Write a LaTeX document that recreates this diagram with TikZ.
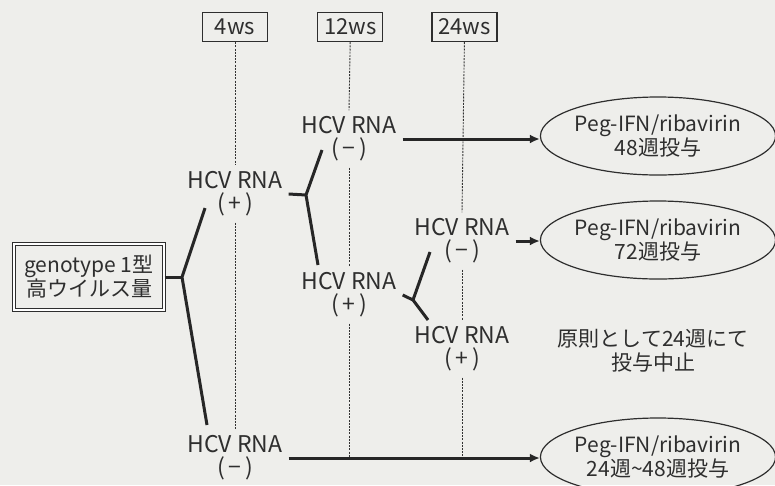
\documentclass[tikz,border=0pt]{standalone}
\usepackage{fontspec}
\setmainfont{Noto Sans CJK JP}
\usepackage{xcolor}
\usepackage{tikz}
\usetikzlibrary{positioning,arrows.meta,shapes.geometric}
\definecolor{bgpaper}{HTML}{EEEEEB}
\definecolor{inkgray}{HTML}{2E2E2E}

\begin{document}
\begin{tikzpicture}[x=1pt,y=-1pt,font=\fontsize{21}{24}\selectfont,>={Latex[length=10pt,width=9pt]},text=inkgray]
  \tikzstyle{week}=[draw=inkgray,line width=1.2pt,minimum width=65pt,minimum height=29pt,inner sep=0pt,font=\fontsize{22}{24}\selectfont]
  \tikzstyle{rna}=[align=center,inner xsep=6pt,inner ysep=6pt,font=\fontsize{23}{23}\selectfont]
  \tikzstyle{regimen}=[draw=inkgray,ellipse,line width=1.2pt,minimum width=230pt,minimum height=78pt,inner sep=0pt,align=center]
  \tikzstyle{branch}=[draw=black!85,line width=3pt]
  \tikzstyle{timeline}=[draw=black!80,line width=0.9pt,dash pattern=on 2pt off 1.2pt]
  \fill[bgpaper] (0,0) rectangle (775,485);
  \useasboundingbox (0,0) rectangle (775,485);
  % time points
  \node[week] (w4) at (235,27) {4ws};
  \node[week,right=49pt of w4] (w12) {12ws};
  \node[week,right=48pt of w12] (w24) {24ws};
  % start
  \node[draw=inkgray,double,double distance=2.2pt,line width=1pt,minimum width=150pt,minimum height=66pt,align=center] (geno) at (89,277) {genotype 1型\\高ウイルス量};
  % HCV RNA results
  \node[rna] (pos4) at (235,194) {HCV RNA\\(\,+\,)};
  \node[rna] (neg4) at (235,458) {HCV RNA\\(\,−\,)};
  \node[rna] (neg12) at (349,139) {HCV RNA\\(\,−\,)};
  \node[rna] (pos12) at (349,295) {HCV RNA\\(\,+\,)};
  \node[rna] (neg24) at (462,241) {HCV RNA\\(\,−\,)};
  \node[rna] (pos24) at (462,349) {HCV RNA\\(\,+\,)};
  % treatments
  \node[regimen] (reg48) at (658,136) {Peg-IFN/ribavirin\\48週投与};
  \node[regimen] (reg72) at (658,240) {Peg-IFN/ribavirin\\72週投与};
  \node[regimen] (reg2448) at (658,457) {Peg-IFN/ribavirin\\24週\textasciitilde48週投与};
  \node[align=center] (stop) at (653,351) {原則として24週にて\\投与中止};
  % dashed time lines
  \draw[timeline] (w4.south) -- (pos4.north);
  \draw[timeline] (pos4.south) -- (neg4.north);
  \draw[timeline] (w12.south) -- (neg12.north);
  \draw[timeline] (neg12.south) -- (pos12.north);
  \draw[timeline] (pos12.south) -- (pos12.south |- neg4.east);
  \draw[timeline] (w24.south) -- (neg24.north);
  \draw[timeline] (neg24.south) -- (pos24.north);
  \draw[timeline] (pos24.south) -- (pos24.south |- neg4.east);
  % branches
  \coordinate (j1) at (182,277);
  \coordinate (j1up) at (205,208);
  \coordinate (j1dn) at (207,425);
  \draw[branch] (geno.east) -- (j1);
  \draw[branch] (j1up) -- (j1) -- (j1dn);
  \coordinate (j2) at (306,195);
  \coordinate (j2up) at (322,150);
  \coordinate (j2dn) at (318,265);
  \draw[branch] (pos4.east) -- (j2);
  \draw[branch] (j2up) -- (j2) -- (j2dn);
  \coordinate (j3) at (413,300);
  \coordinate (j3up) at (430,252);
  \coordinate (j3dn) at (428,320);
  \draw[branch] (pos12.east) -- (j3);
  \draw[branch] (j3up) -- (j3) -- (j3dn);
  % arrows to treatments
  \draw[branch,->] (neg12.east) -- (neg12.east -| reg48.west);
  \draw[branch,->] (neg24.east) -- (neg24.east -| reg72.west);
  \draw[branch,->] (neg4.east) -- (neg4.east -| reg2448.west);
\end{tikzpicture}
\end{document}
